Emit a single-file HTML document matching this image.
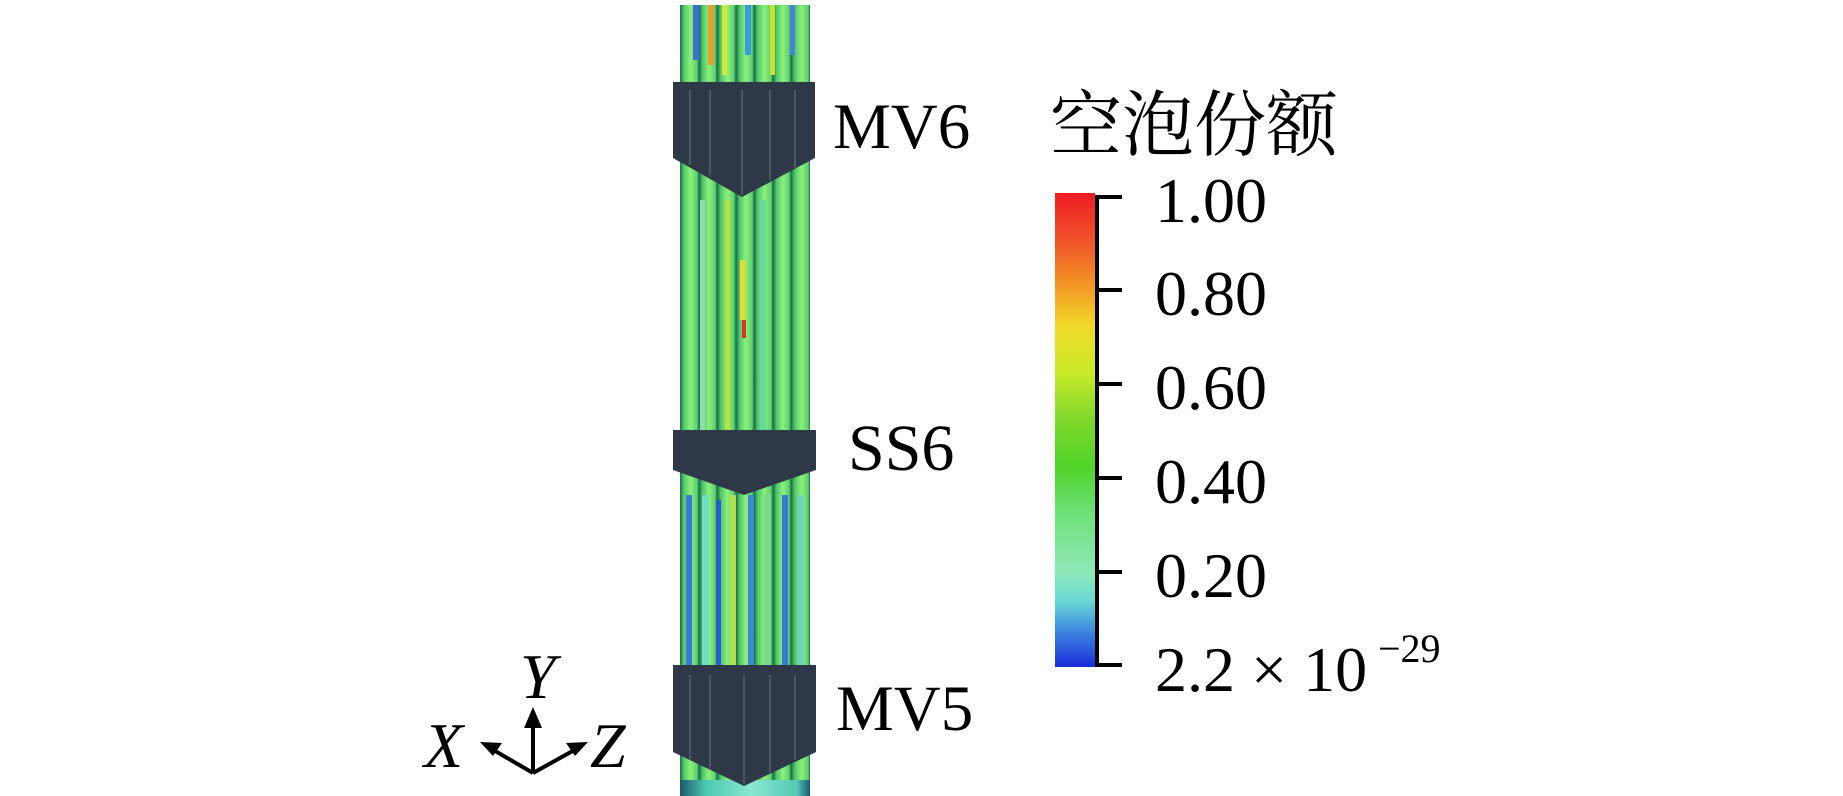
<!DOCTYPE html>
<html><head><meta charset="utf-8"><style>
html,body{margin:0;padding:0;background:#fff;}
svg{display:block;}
text{font-family:"Liberation Serif","Noto Serif CJK SC",serif;fill:#000;}
</style></head><body>
<svg width="1843" height="796" viewBox="0 0 1843 796" xmlns="http://www.w3.org/2000/svg">
<defs>
<linearGradient id="cb" x1="0" y1="0" x2="0" y2="1">
<stop offset="0" stop-color="#ee1c24"/>
<stop offset="0.1" stop-color="#f0522a"/>
<stop offset="0.2" stop-color="#f39a24"/>
<stop offset="0.28" stop-color="#f2d92a"/>
<stop offset="0.38" stop-color="#c8ea2a"/>
<stop offset="0.48" stop-color="#7ed82a"/>
<stop offset="0.58" stop-color="#4fd42a"/>
<stop offset="0.68" stop-color="#6fe27a"/>
<stop offset="0.8" stop-color="#8ee8b8"/>
<stop offset="0.86" stop-color="#6ad8d4"/>
<stop offset="0.92" stop-color="#3f8ee0"/>
<stop offset="1" stop-color="#1a2ad8"/>
</linearGradient>
<linearGradient id="rodG" x1="0" y1="0" x2="1" y2="0">
<stop offset="0" stop-color="#1d6a4a"/><stop offset="0.2" stop-color="#4fc86a"/><stop offset="0.55" stop-color="#8ef07a"/><stop offset="0.9" stop-color="#5ad070"/><stop offset="1" stop-color="#1d6a4a"/>
</linearGradient>
<linearGradient id="rodC" x1="0" y1="0" x2="1" y2="0">
<stop offset="0" stop-color="#1a5a6a"/><stop offset="0.2" stop-color="#4cc8b0"/><stop offset="0.55" stop-color="#8ae8d0"/><stop offset="0.9" stop-color="#52c8b4"/><stop offset="1" stop-color="#1a5a6a"/>
</linearGradient>
</defs>
<g>
<rect x="680" y="5" width="130" height="791" fill="url(#rodG)"/>
<rect x="680" y="5" width="19" height="791" fill="url(#rodG)"/>
<rect x="699" y="5" width="18" height="791" fill="url(#rodG)"/>
<rect x="717" y="5" width="19" height="791" fill="url(#rodG)"/>
<rect x="736" y="5" width="18" height="791" fill="url(#rodG)"/>
<rect x="754" y="5" width="19" height="791" fill="url(#rodG)"/>
<rect x="773" y="5" width="18" height="791" fill="url(#rodG)"/>
<rect x="791" y="5" width="19" height="791" fill="url(#rodG)"/>
<rect x="693" y="5" width="6" height="55" fill="#3a70d8"/>
<rect x="708" y="5" width="6" height="60" fill="#e0a030"/>
<rect x="722" y="5" width="5" height="70" fill="#d8e830"/>
<rect x="745" y="5" width="6" height="50" fill="#3a9ae0"/>
<rect x="770" y="5" width="5" height="70" fill="#c8e030"/>
<rect x="790" y="5" width="5" height="50" fill="#4a80d8"/>
<rect x="740" y="260" width="5" height="60" fill="#e8d830"/>
<rect x="742" y="320" width="4" height="18" fill="#e03020"/>
<rect x="725" y="200" width="5" height="230" fill="#b8e040"/>
<rect x="760" y="200" width="6" height="230" fill="#6ad8a0"/>
<rect x="700" y="200" width="5" height="230" fill="#8ae0b0"/>
<rect x="686" y="495" width="6" height="170" fill="#3a78d8"/>
<rect x="702" y="495" width="7" height="170" fill="#6ae0c0"/>
<rect x="716" y="500" width="5" height="165" fill="#2a5ad0"/>
<rect x="730" y="495" width="6" height="170" fill="#b0e050"/>
<rect x="748" y="495" width="6" height="170" fill="#3a88d8"/>
<rect x="764" y="495" width="7" height="170" fill="#7ad890"/>
<rect x="782" y="495" width="6" height="170" fill="#3a78d8"/>
<rect x="798" y="495" width="5" height="170" fill="#6ad0d0"/>
<rect x="680" y="780" width="130" height="16" fill="url(#rodC)"/>
</g>
<polygon points="673,82 815,82 815,158 742,197 673,158" fill="#2e3846"/>
<polygon points="673,430 816,430 816,470 744,495 673,470" fill="#2e3846"/>
<polygon points="673,665 816,665 816,752 744,786 673,752" fill="#2e3846"/>
<g stroke="#4a5666" stroke-width="2">
<line x1="690" y1="90" x2="690" y2="165"/><line x1="710" y1="90" x2="710" y2="175"/><line x1="742" y1="90" x2="742" y2="195"/><line x1="770" y1="90" x2="770" y2="180"/><line x1="795" y1="90" x2="795" y2="168"/>
<line x1="690" y1="675" x2="690" y2="760"/><line x1="710" y1="675" x2="710" y2="770"/><line x1="744" y1="675" x2="744" y2="784"/><line x1="770" y1="675" x2="770" y2="772"/><line x1="795" y1="675" x2="795" y2="760"/>
</g>
<text x="833" y="148" font-size="65">MV6</text>
<text x="848" y="470" font-size="66">SS6</text>
<text x="836" y="730" font-size="65">MV5</text>
<text x="1050" y="150" font-size="72" font-family="'Noto Serif CJK SC','Noto Sans CJK SC',serif">空泡份额</text>
<rect x="1055" y="193" width="40" height="474" fill="url(#cb)"/>
<g stroke="#000" stroke-width="4">
<line x1="1097" y1="195" x2="1097" y2="667"/>
<line x1="1095" y1="197" x2="1122" y2="197"/>
<line x1="1095" y1="290" x2="1122" y2="290"/>
<line x1="1095" y1="384" x2="1122" y2="384"/>
<line x1="1095" y1="478" x2="1122" y2="478"/>
<line x1="1095" y1="572" x2="1122" y2="572"/>
<line x1="1095" y1="665" x2="1122" y2="665"/>
</g>
<g font-size="64">
<text x="1155" y="222">1.00</text>
<text x="1155" y="315">0.80</text>
<text x="1155" y="409">0.60</text>
<text x="1155" y="503">0.40</text>
<text x="1155" y="597">0.20</text>
<text x="1155" y="691">2.2 × 10</text>
</g>
<text x="1378" y="662" font-size="40">−29</text>
<g stroke="#000" stroke-width="4" fill="none">
<line x1="533" y1="773" x2="533" y2="718"/>
<line x1="533" y1="773" x2="490" y2="748"/>
<line x1="533" y1="773" x2="578" y2="748"/>
</g>
<polygon points="533,707 524,728 542,728" fill="#000"/>
<polygon points="480,742 502,743 493,756" fill="#000"/>
<polygon points="588,742 566,743 575,756" fill="#000"/>
<g font-size="64" font-style="italic">
<text x="520" y="698">Y</text>
<text x="424" y="767">X</text>
<text x="590" y="767">Z</text>
</g>
</svg>
</body></html>
